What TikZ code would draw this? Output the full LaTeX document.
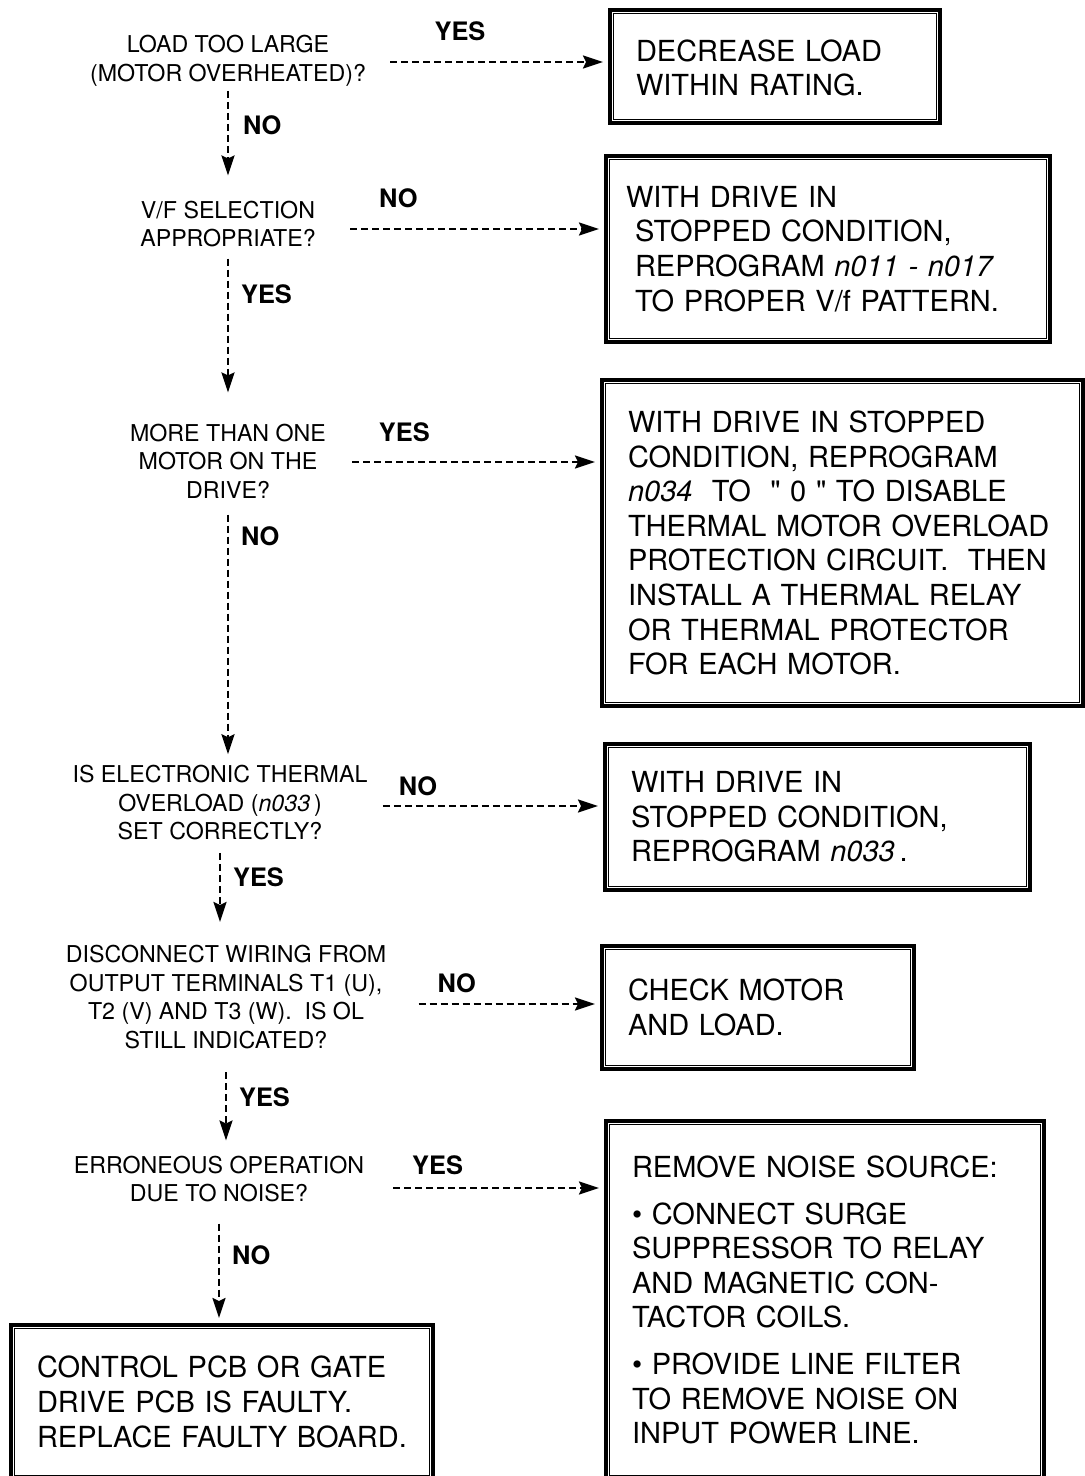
\documentclass[tikz,border=0pt]{standalone}
\usepackage{fontspec}
\setmainfont{TeX Gyre Heros}
\usetikzlibrary{arrows.meta}

\begin{document}
\begin{tikzpicture}[x=0.5pt, y=-0.5pt,
    question/.style={align=center, inner sep=0pt, font=\fontsize{11.6}{14.25}\selectfont},
    action/.style={draw, line width=2pt, align=left, inner xsep=13pt, inner ysep=3pt, font=\fontsize{14.5}{17.3}\selectfont},
    inner frame/.style={line width=0.7pt},
    flow/.style={-{Stealth[length=10pt, width=6.5pt, inset=1.5pt]}, line width=1.1pt, dash pattern=on 3.5pt off 2pt, shorten >=2.5pt},
    branch/.style={font=\fontsize{12.7}{14}\selectfont\bfseries, inner sep=0pt}
  ]
    \useasboundingbox (0,0) rectangle (1085,1476);

    % Questions down the left, remedies in double framed boxes on the right.
    \node[question] (loadCheck) at (228,61) {LOAD TOO LARGE\\(MOTOR OVERHEATED)?};
    \node[question] (vfCheck) at (228,224) {V/F SELECTION\\APPROPRIATE?};
    \node[question] (motorCheck) at (228,461) {MORE THAN ONE\\MOTOR ON THE\\DRIVE?};
    \node[question] (thermalCheck) at (220,803) {IS ELECTRONIC THERMAL\\OVERLOAD (\textit{n033}\,)\\SET CORRECTLY?};
    \node[question] (wiringCheck) at (226,997) {DISCONNECT WIRING FROM\\OUTPUT TERMINALS T1 (U),\\T2 (V) AND T3 (W).\ \ IS OL\\STILL INDICATED?};
    \node[question] (noiseCheck) at (219,1179) {ERRONEOUS OPERATION\\DUE TO NOISE?};

    \node[action, minimum width=165pt, minimum height=56.5pt, text width=139pt] (fixLoad) at (775,66.5) {\strut DECREASE LOAD\\WITHIN RATING.};
    \node[action, minimum width=222pt, minimum height=93pt, inner xsep=10pt, text width=202pt] (fixVf) at (828,249) {WITH DRIVE IN\\\hspace*{4.5pt}STOPPED CONDITION,\\\hspace*{4.5pt}REPROGRAM \textit{n011 - n017}\\\hspace*{4.5pt}TO PROPER V/f PATTERN.};
    \node[action, minimum width=240.5pt, minimum height=163pt, text width=214.5pt] (fixMotors) at (842.5,543) {WITH DRIVE IN STOPPED\\CONDITION, REPROGRAM\\\textit{n034}\ \ TO\ \ \textquotedbl\ 0\ \textquotedbl\ TO DISABLE\\THERMAL MOTOR OVERLOAD\\PROTECTION CIRCUIT.\ \ THEN\\INSTALL A THERMAL RELAY\\OR THERMAL PROTECTOR\\FOR EACH MOTOR.};
    \node[action, minimum width=212.5pt, minimum height=73pt, text width=186.5pt] (fixThermal) at (817.5,817) {WITH DRIVE IN\\STOPPED CONDITION,\\REPROGRAM \textit{n033}\,.};
    \node[action, minimum width=156pt, minimum height=61.5pt, text width=130pt] (fixWiring) at (758,1007.5) {CHECK MOTOR\\AND LOAD.};
    \node[action, minimum width=219pt, minimum height=179pt, text width=193pt] (fixNoise) at (825,1300) {REMOVE NOISE SOURCE:\\[6pt]\textbullet\ CONNECT SURGE\\SUPPRESSOR TO RELAY\\AND MAGNETIC CON-\\TACTOR COILS.\\[6pt]\textbullet\ PROVIDE LINE FILTER\\TO REMOVE NOISE ON\\INPUT POWER LINE.};
    \node[action, minimum width=211pt, minimum height=77pt, text width=185pt] (fixBoard) at (222,1402) {CONTROL PCB OR GATE\\DRIVE PCB IS FAULTY.\\REPLACE FAULTY BOARD.};

    \foreach \fix in {fixLoad,fixVf,fixMotors,fixThermal,fixWiring,fixNoise,fixBoard}
      \draw[inner frame] ([shift={(2.8pt,-2.8pt)}]\fix.north west) rectangle ([shift={(-2.8pt,2.8pt)}]\fix.south east);

    \draw[flow] ([shift={(12pt,-0.5pt)}]loadCheck.east) -- node[branch, pos=0.32, above=10pt] {YES} ([yshift=-0.5pt]loadCheck.east -| fixLoad.west);
    \draw[flow] ([shift={(17pt,-2.5pt)}]vfCheck.east) -- node[branch, pos=0.19, above=10pt] {NO} ([yshift=-2.5pt]vfCheck.east -| fixVf.west);
    \draw[flow] ([shift={(13pt,-0.5pt)}]motorCheck.east) -- node[branch, pos=0.21, above=9.5pt] {YES} ([yshift=-0.5pt]motorCheck.east -| fixMotors.west);
    \draw[flow] ([shift={(7.5pt,-1.5pt)}]thermalCheck.east) -- node[branch, pos=0.16, above=4.5pt] {NO} ([yshift=-1.5pt]thermalCheck.east -| fixThermal.west);
    \draw[flow] ([shift={(16pt,-3.5pt)}]wiringCheck.east) -- node[branch, pos=0.21, above=5pt] {NO} ([yshift=-3.5pt]wiringCheck.east -| fixWiring.west);
    \draw[flow] ([shift={(14.5pt,-4.5pt)}]noiseCheck.east) -- node[branch, pos=0.21, above=6pt] {YES} ([yshift=-4.5pt]noiseCheck.east -| fixNoise.west);

    \draw[flow] ([yshift=-2pt]loadCheck.south) -- node[branch, pos=0.38, right=7pt] {NO} ([yshift=10pt]loadCheck.south |- vfCheck.north);
    \draw[flow] ([yshift=-5.5pt]vfCheck.south) -- node[branch, pos=0.26, right=6pt] {YES} ([yshift=13pt]vfCheck.south |- motorCheck.north);
    \draw[flow] ([yshift=-8pt]motorCheck.south) -- node[branch, pos=0.09, right=6pt] {NO} ([yshift=3pt]motorCheck.south |- thermalCheck.north);
    \draw[flow] ([yshift=-6pt]thermalCheck.south) -- node[branch, pos=0.33, right=6pt] {YES} ([yshift=9pt]thermalCheck.south |- wiringCheck.north);
    \draw[flow] ([yshift=-11.5pt]wiringCheck.south) -- node[branch, pos=0.34, right=6pt] {YES} ([yshift=5pt]wiringCheck.south |- noiseCheck.north);
    \draw[flow] ([yshift=-10.5pt]noiseCheck.south) -- node[branch, pos=0.32, right=6pt] {NO} (noiseCheck.south |- fixBoard.north);
  \end{tikzpicture}
\end{document}
